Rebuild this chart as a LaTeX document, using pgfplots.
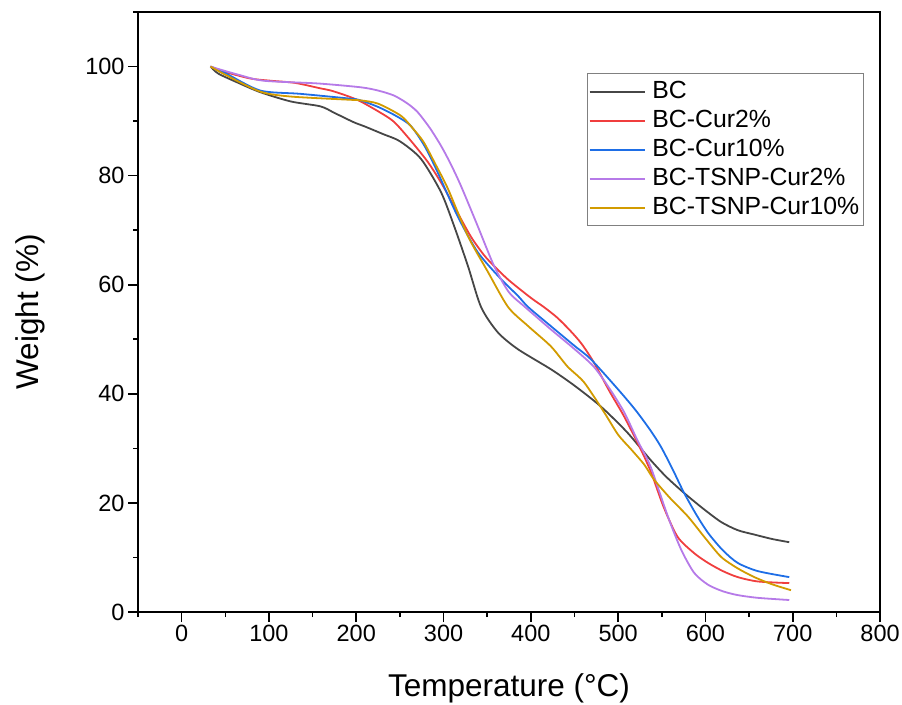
\documentclass[border=0pt]{standalone}
\usepackage{fontspec}
\setmainfont{Liberation Sans}
\usepackage{pgfplots}
\pgfplotsset{compat=1.18}
\definecolor{cBC}{RGB}{70,70,70}
\definecolor{cR}{RGB}{240,62,62}
\definecolor{cB}{RGB}{30,110,230}
\definecolor{cP}{RGB}{182,122,232}
\definecolor{cG}{RGB}{210,155,0}
\begin{document}
\begin{tikzpicture}
\begin{axis}[
  scale only axis, width=742pt, height=600pt,
  xmin=-50, xmax=800, ymin=0, ymax=110,
  xtick={0,100,...,800}, ytick={0,20,...,100},
  minor xtick={-50,50,...,750}, minor ytick={10,30,...,110},
  xtick pos=bottom, ytick pos=left,
  tick align=outside,
  major tick length=10pt, minor tick length=5pt,
  every tick/.style={black, line width=1.6pt},
  axis line style={line width=1.6pt},
  /pgf/number format/assume math mode=true,
  tick label style={font=\fontsize{23.5}{28}\selectfont},
  xlabel={Temperature (°C)}, ylabel={Weight (\%)},
  label style={font=\fontsize{31.5}{36}\selectfont},
  xlabel style={at={(axis description cs:0.5,-0.127)}, anchor=center},
  ylabel style={at={(axis description cs:-0.145,0.5)}, anchor=center},
  clip=false,
  legend cell align=left,
  legend style={at={(axis description cs:0.605,0.898)}, anchor=north west,
    draw=gray, line width=1.2pt, font=\fontsize{24.8}{29}\selectfont,
    inner xsep=1pt, inner ysep=3.5pt, row sep=0pt,
    nodes={text height=18pt, text depth=5pt, inner sep=3pt}},
  legend image code/.code={\draw[#1, line width=2pt] (0pt,0pt) -- (55pt,0pt); \path (59pt,0pt);},
  every axis plot/.append style={line width=1.8pt, smooth, tension=0.45},
]
\addplot[cBC] coordinates {(33,100) (42,98.7) (65,97) (90,95.3) (125,93.6) (159,92.7) (175,91.5) (197,89.8) (210,89) (231,87.6) (250,86.3) (274,83.1) (297,77) (312,70.8) (328,63.4) (343,55.9) (362,51.3) (385,48.2) (423,44.5) (450,41.5) (480,37.7) (510,33) (537,27.9) (555,24.8) (575,21.9) (597,19) (618,16.5) (637,15) (656,14.2) (676,13.4) (696,12.8)};
\addlegendentry{BC}
\addplot[cR] coordinates {(33,100) (50,99) (79,97.8) (102,97.4) (130,97) (159,96) (171,95.6) (190,94.6) (205,93.6) (225,91.8) (243,89.9) (262,86.5) (282,82.5) (298,78.5) (312,74.4) (331,68.9) (346,65.5) (358,63.4) (375,60.8) (400,57.6) (415,55.9) (430,54) (445,51.6) (458,49.2) (472,45.8) (490,40.5) (507,35.8) (526,29.8) (538,25.5) (552,19.3) (568,13.8) (587,10.8) (603,9) (620,7.5) (637,6.4) (660,5.6) (696,5.3)};
\addlegendentry{BC-Cur2\%}
\addplot[cB] coordinates {(33,100) (50,98.8) (90,95.6) (136,95) (194,94.1) (205,93.8) (225,92.6) (245,91) (262,89.2) (278,85.5) (293,80.7) (316,72.6) (339,66) (366,61) (385,58) (397,55.9) (423,52.4) (450,48.8) (469,46.3) (500,40.8) (520,37) (537,33.3) (549,30.3) (562,26.3) (575,22) (589,18) (603,14.5) (620,11.3) (637,9) (660,7.5) (696,6.4)};
\addlegendentry{BC-Cur10\%}
\addplot[cP] coordinates {(33,100) (41,99.6) (65,98.5) (94,97.4) (156,96.9) (205,96.2) (225,95.6) (243,94.7) (258,93.3) (270,91.7) (284,88.8) (297,85.5) (308,82.2) (320,78.1) (339,70.8) (358,63.4) (375,58.6) (392,56.1) (410,53.6) (423,51.8) (450,48.2) (472,45) (490,41) (507,36.6) (522,31.5) (537,26.7) (557,17.5) (572,11.5) (587,7.2) (603,5) (620,3.8) (637,3.1) (660,2.6) (696,2.2)};
\addlegendentry{BC-TSNP-Cur2\%}
\addplot[cG] coordinates {(33,100) (50,98.5) (90,95.4) (125,94.5) (194,93.9) (205,93.8) (225,93.2) (251,91) (264,88.8) (277,86.2) (291,82) (305,77.6) (328,68.9) (351,62.3) (374,55.9) (397,52.4) (423,48.7) (442,45) (461,42.1) (484,36.6) (500,32.5) (515,29.8) (530,27) (541,24.3) (560,20.8) (580,17.5) (600,13.5) (618,10.1) (637,8) (656,6.4) (676,5.1) (698,4.0)};
\addlegendentry{BC-TSNP-Cur10\%}
\coordinate (bbsw) at (rel axis cs:-0.186,-0.1533);
\coordinate (bbne) at (rel axis cs:1.0296,1.02);
\end{axis}
\pgfresetboundingbox
\path (bbsw) rectangle (bbne);
\end{tikzpicture}
\end{document}
